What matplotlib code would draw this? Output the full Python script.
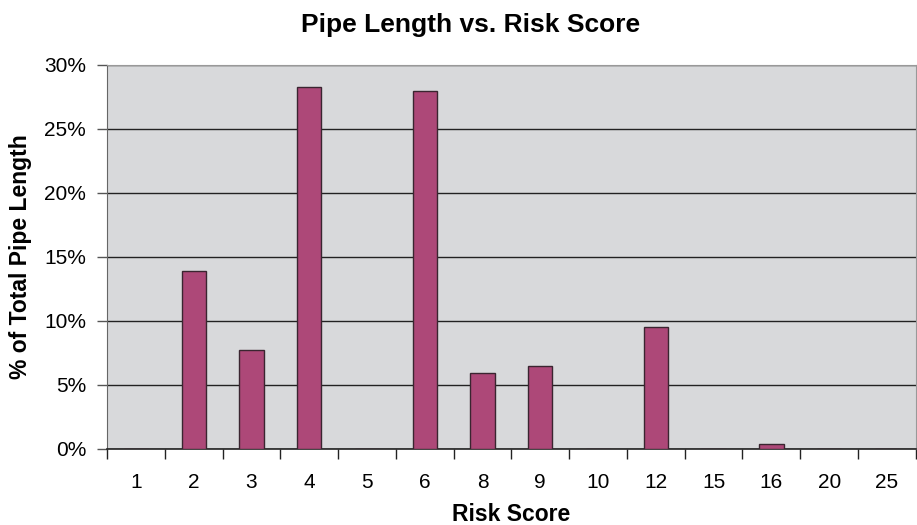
import numpy as np
import matplotlib.pyplot as plt
from matplotlib.ticker import FixedLocator, PercentFormatter

plt.rcParams['font.family'] = ['Liberation Sans', 'DejaVu Sans']

# Risk score categories and share of total pipe length (%)
scores = ['1', '2', '3', '4', '5', '6', '8', '9', '10', '12', '15', '16', '20', '25']
pct = [0, 13.9, 7.7, 28.25, 0, 28.0, 5.9, 6.45, 0, 9.55, 0, 0.37, 0, 0]

fig = plt.figure(figsize=(9.17, 5.25), dpi=100)
ax = fig.add_axes([0.1167, 0.1448, 0.882, 0.7314])
ax.set_facecolor('#D8D9DB')

x = np.arange(len(scores))
ax.bar(x, pct, width=0.42, color='#AD4878', edgecolor='#3A2530', linewidth=1.0, zorder=3)

ax.set_xlim(-0.5, len(scores) - 0.5)
ax.set_ylim(0, 30)
ax.set_yticks(np.arange(0, 31, 5))
ax.yaxis.set_major_formatter(PercentFormatter(decimals=0))
ax.grid(axis='y', color='#222222', linewidth=1.0, zorder=1)

# labels at category centres, tick marks at category boundaries
ax.set_xticks(x)
ax.set_xticklabels(scores)
ax.xaxis.set_minor_locator(FixedLocator(np.arange(-0.5, len(scores), 1)))
ax.tick_params(axis='x', which='major', length=0, pad=17, labelsize=15)
ax.tick_params(axis='x', which='minor', length=7, width=1, color='#222222')
ax.tick_params(axis='y', length=7, width=1, color='#555555', labelsize=15, pad=8)

for side in ['top', 'right']:
    ax.spines[side].set_color('#999999')
ax.spines['left'].set_color('#666666')
ax.spines['bottom'].set_color('#222222')
ax.spines['bottom'].set_linewidth(1.2)

ax.set_xlabel('Risk Score', fontsize=16.5, fontweight='bold', labelpad=8)
ax.set_ylabel('% of Total Pipe Length', fontsize=16.5, fontweight='bold', labelpad=9)
fig.text(0.513, 0.952, 'Pipe Length vs. Risk Score', ha='center', va='center',
         fontsize=19, fontweight='bold')

plt.savefig('out.png', dpi=100)
